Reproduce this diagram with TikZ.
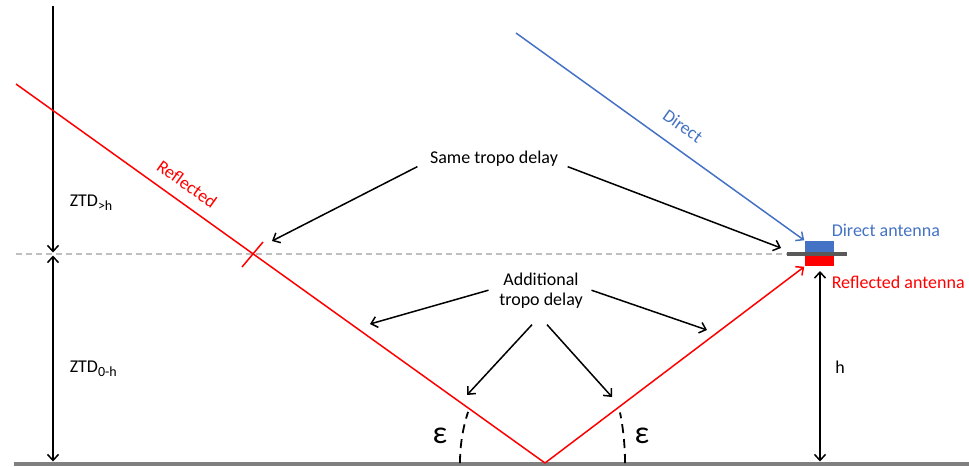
\documentclass[tikz,border=0pt]{standalone}
\usepackage{fontspec}
\setmainfont{Carlito}
\usetikzlibrary{arrows.meta}

\definecolor{dirblue}{HTML}{4472C4}
\definecolor{refred}{HTML}{FF0000}
\definecolor{groundgray}{HTML}{808080}
\definecolor{dashgray}{HTML}{BFBFBF}
\definecolor{bargray}{HTML}{595959}

\newcommand{\lowsub}[1]{\raisebox{-4pt}{\fontsize{14}{15}\selectfont #1}}

\tikzset{
  barb/.style={-{Straight Barb[length=6pt,width=11pt]}},
  dbarb/.style={{Straight Barb[length=6pt,width=11pt]}-{Straight Barb[length=6pt,width=11pt]}},
  lbl/.style={font=\fontsize{18}{20}\selectfont, inner sep=0pt},
  elev/.style={black, line width=1.8pt, dash pattern=on 9pt off 6pt},
}

\begin{document}
\begin{tikzpicture}[x=1pt,y=-1pt, line width=1.5pt]
    \useasboundingbox (0,0) rectangle (969,466);

    % ground, antenna height level
    \coordinate (gl) at (14,464);
    \coordinate (gr) at (969,464);
    \draw[dashgray, line width=1.2pt, dash pattern=on 6pt off 4pt] (16,254) -- (790,254);
    \draw[groundgray, line width=4pt] (gl) -- (gr);

    % antenna
    \node[fill=dirblue, minimum width=29pt, minimum height=12pt, inner sep=0pt] (dant) at (819.5,247) {};
    \node[fill=refred, minimum width=29pt, minimum height=10pt, inner sep=0pt] (rant) at (819.5,261) {};
    \draw[bargray, line width=3.5pt] (787,254) -- (847,254);
    \node[lbl, dirblue, anchor=base west] (dlbl) at (831,236) {Direct antenna};
    \node[lbl, refred, anchor=base west] (rlbl) at (831,288) {Reflected antenna};

    % zenith delays
    \coordinate (ztop) at (53,6);
    \coordinate (zmid) at (53,254);
    \coordinate (zbot) at (53,464);
    \draw[barb, shorten >=1.5pt] (ztop) -- (zmid);
    \draw[dbarb, shorten <=1.5pt, shorten >=2.5pt] (zmid) -- (zbot);
    \node[lbl, anchor=base west] (ztdup) at (69,206) {ZTD\lowsub{>h}};
    \node[lbl, anchor=base west] (ztdlow) at (69,372) {ZTD\lowsub{0-h}};

    % antenna height
    \coordinate (htop) at (820,271);
    \coordinate (hbot) at (820,464);
    \draw[dbarb, shorten >=2.5pt] (htop) -- (hbot);
    \node[lbl, anchor=base] (hlbl) at (840,373) {h};

    % direct ray
    \coordinate (sat) at (516,33);
    \draw[dirblue, barb] (sat) -- (dant.north west);
    \node[lbl, dirblue, rotate=-35.3] (dray) at (683,126) {Direct};

    % reflected ray
    \coordinate (rsrc) at (16,84);
    \coordinate (bounce) at (545,463);
    \coordinate (tick) at (253,254);
    \draw[refred] (rsrc) -- (bounce);
    \draw[refred, barb] (bounce) -- (rant.south west);
    \draw[refred] ([shift={(-11,13)}]tick) -- ([shift={(10,-12)}]tick);
    \node[lbl, refred, rotate=-35.6] (rray) at (187,184) {Reflected};

    % elevation angles
    \draw[elev] (bounce) ++(-85,0) arc[start angle=180, end angle=205.2, x radius=85, y radius=120];
    \draw[elev] (bounce) ++(80,0) arc[start angle=0, end angle=-20.4, x radius=80, y radius=145];
    \node[font=\fontsize{32}{34}\selectfont, inner sep=0pt] (epsl) at (440,436) {ε};
    \node[font=\fontsize{32}{34}\selectfont, inner sep=0pt] (epsr) at (642,436) {ε};

    % delay labels
    \node[lbl, anchor=base] (same) at (494,163) {Same tropo delay};
    \coordinate (samel) at (272,241);
    \coordinate (samer) at (781,248);
    \draw[barb] ([xshift=-12pt]same.south west) -- (samel);
    \draw[barb] ([xshift=9pt]same.south east) -- (samer);

    \node[lbl, anchor=base, align=center] (add) at (541,305) {Additional\\tropo delay};
    \coordinate (addl) at (370,324);
    \coordinate (addr) at (707,330);
    \coordinate (addbl) at (467,395);
    \coordinate (addbr) at (612,397);
    \draw[barb] ([xshift=-10pt]add.west) -- (addl);
    \draw[barb] ([xshift=8pt]add.east) -- (addr);
    \draw[barb] ([xshift=-9pt,yshift=-16pt]add.south) -- (addbl);
    \draw[barb] ([xshift=6pt,yshift=-16pt]add.south) -- (addbr);
\end{tikzpicture}
\end{document}
